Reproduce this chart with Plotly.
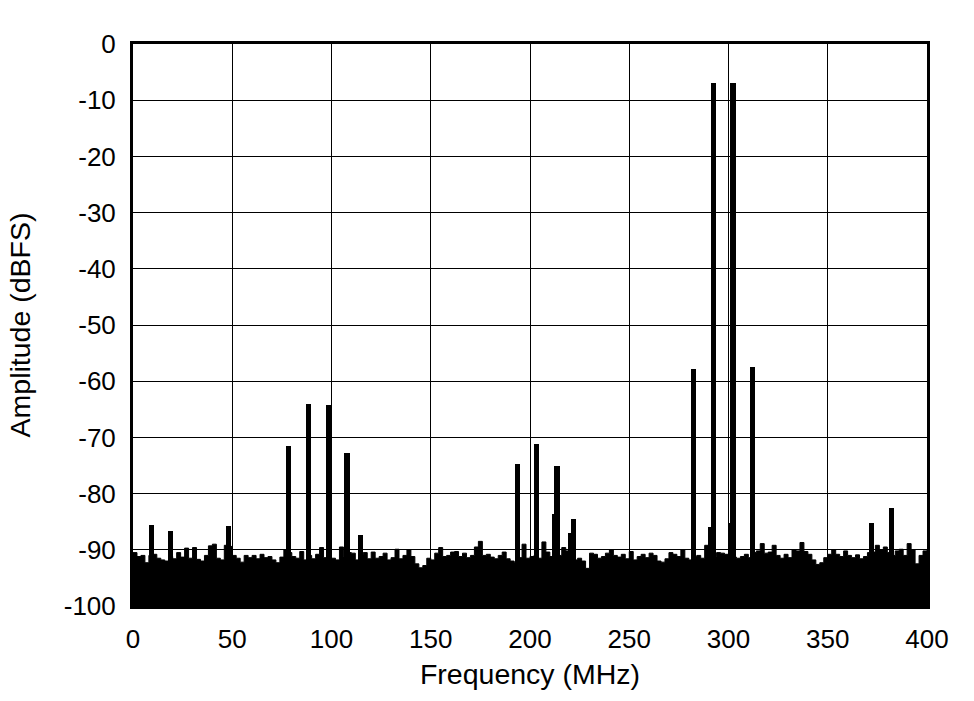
import plotly.graph_objects as go

# Noise-floor envelope, 2 MHz spacing (0..400 MHz), dBFS
noise_freq = [2 * i for i in range(201)]
noise_level = [
    -90.5, -91.2, -91.0, -92.3, -91.0, -90.8, -91.5, -91.8, -92.0, -91.2,
    -91.6, -90.5, -91.3, -89.7, -91.5, -89.6, -91.7, -92.0, -91.0, -89.3,
    -89.0, -91.5, -91.8, -89.2, -89.4, -91.0, -91.5, -92.2, -91.0, -91.4,
    -91.0, -91.6, -90.8, -91.4, -91.2, -91.8, -92.3, -91.3, -90.0, -90.5,
    -91.2, -91.5, -90.3, -91.8, -91.0, -91.6, -90.8, -89.6, -91.4, -90.8,
    -91.5, -91.8, -89.5, -91.2, -90.5, -90.6, -91.8, -90.8, -90.5, -91.6,
    -90.4, -91.5, -91.2, -90.6, -91.8, -91.4, -89.9, -91.6, -91.0, -90.0,
    -91.2, -92.5, -93.2, -92.8, -91.5, -91.8, -90.6, -89.6, -91.2, -91.0,
    -90.4, -90.3, -91.2, -90.6, -91.4, -91.0, -89.5, -88.5, -91.0, -90.8,
    -91.3, -91.6, -91.0, -90.4, -91.6, -92.0, -92.2, -91.4, -89.0, -91.5,
    -91.2, -91.0, -91.5, -88.6, -90.4, -91.2, -90.8, -91.0, -89.6, -90.2,
    -91.0, -91.8, -91.5, -92.0, -93.3, -90.6, -90.8, -91.5, -91.2, -90.6,
    -90.0, -91.0, -91.3, -90.8, -91.6, -90.3, -91.8, -91.2, -90.8, -91.4,
    -90.6, -91.0, -92.0, -92.2, -91.6, -90.5, -90.8, -91.2, -90.0, -91.5,
    -91.8, -91.2, -91.0, -91.5, -89.2, -90.8, -91.2, -90.5, -90.6, -90.8,
    -91.0, -91.3, -91.5, -91.2, -90.8, -91.4, -90.5, -90.2, -88.9, -90.6,
    -90.4, -89.2, -91.0, -91.5, -90.8, -91.4, -90.0, -90.2, -88.7, -90.3,
    -90.8, -91.8, -92.6, -92.3, -91.4, -90.8, -90.0, -90.8, -91.2, -90.2,
    -91.0, -91.4, -90.9, -91.6, -91.2, -90.5, -90.4, -89.2, -90.0, -89.5,
    -90.5, -91.0, -90.2, -89.9, -91.0, -88.9, -90.0, -92.5, -91.0, -90.2,
    -90.0,
]

# Spurs / tones (MHz, dBFS)
spur_freq = [9.3, 19.0, 47.9, 78.5, 88.3, 98.3, 107.8, 114.7,
             193.8, 203.3, 212.3, 213.6, 220.5, 221.8,
             282.5, 291.2, 292.6, 300.8, 302.3, 311.9, 372.0, 382.2]
spur_level = [-85.5, -86.7, -85.8, -71.6, -64.0, -64.3, -72.7, -87.4,
              -74.8, -71.2, -83.7, -75.0, -87.0, -84.5,
              -57.8, -86.0, -6.9, -85.2, -6.9, -57.5, -85.3, -82.6]

floor_db = -100
x_ticks = [0, 50, 100, 150, 200, 250, 300, 350, 400]
y_ticks = [0, -10, -20, -30, -40, -50, -60, -70, -80, -90, -100]
y_labels = ["0", "-10", "-20", "-30", "-40", "-50", "-60", "-70", "-80", "-90", "-100"]

FONT = "Liberation Sans, Arial, sans-serif"

fig = go.Figure()
fig.add_trace(go.Scatter(x=noise_freq, y=[floor_db] * len(noise_freq), mode="lines",
                         line=dict(width=0, color="black"), line_shape="hv",
                         showlegend=False, hoverinfo="skip"))
fig.add_trace(go.Scatter(x=noise_freq, y=noise_level, mode="lines", line_shape="hv",
                         line=dict(width=1, color="black"), fill="tonexty",
                         fillcolor="black", showlegend=False))
fig.add_trace(go.Bar(x=spur_freq, y=[v - floor_db for v in spur_level], base=floor_db,
                     width=[2.6] * len(spur_freq), marker=dict(color="black", line=dict(width=0)),
                     showlegend=False))

fig.update_layout(
    width=974, height=701,
    margin=dict(l=133, r=47, t=44, b=95),
    paper_bgcolor="white", plot_bgcolor="white",
    font=dict(family=FONT, size=26, color="black"),
    bargap=0,
)
fig.update_xaxes(range=[0, 400], tickvals=x_ticks, ticktext=[str(v) for v in x_ticks],
                 showgrid=True, gridcolor="black", gridwidth=1,
                 showline=True, linecolor="black", linewidth=3, mirror=True,
                 ticks="outside", ticklen=8, tickcolor="rgba(0,0,0,0)",
                 zeroline=False, tickfont=dict(size=26),
                 title=dict(text="Frequency (MHz)", font=dict(size=28.5), standoff=11))
fig.update_yaxes(range=[-100, 0], tickvals=y_ticks, ticktext=y_labels,
                 showgrid=True, gridcolor="black", gridwidth=1,
                 showline=True, linecolor="black", linewidth=3, mirror=True,
                 ticks="outside", ticklen=9, tickcolor="rgba(0,0,0,0)",
                 zeroline=False, tickfont=dict(size=26),
                 title=dict(text="Amplitude (dBFS)", font=dict(size=28.5), standoff=25))

fig.write_html("out.html",
               config={"displayModeBar": False},
               post_script="document.body.style.margin='0px';document.body.style.overflow='hidden';")
